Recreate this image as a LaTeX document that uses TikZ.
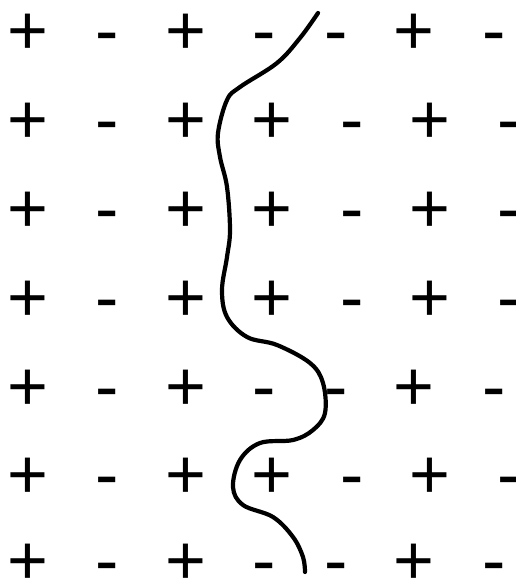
\documentclass[tikz,border=0pt]{standalone}
\usepackage{fontspec}
\setmainfont{Liberation Sans}

\begin{document}
\begin{tikzpicture}[x=1pt,y=-1pt,
        sign/.style={inner sep=0pt,anchor=base,font=\fontsize{70}{70}\selectfont},
        boundary/.style={line width=4.2pt,line cap=round,line join=round}]
        \useasboundingbox (0,0) rectangle (516,578);
        % rows with a minus in the fourth place
        \foreach \r/\y in {1/30,5/385,7/559}{
            \foreach \c/\x/\s in {1/28/+,2/107/-,3/186/+,4/264/-,5/336/-,6/414/+,7/494/-}
                \node[sign] (s\r\c) at (\x,\y+25) {\s};
        }
        % rows with a plus in the fourth place
        \foreach \r/\y in {2/118,3/207,4/296,6/473}{
            \foreach \c/\x/\s in {1/28/+,2/107/-,3/186/+,4/272/+,5/352/-,6/430/+,7/509/-}
                \node[sign] (s\r\c) at (\x,\y+25) {\s};
        }
        \draw[boundary] plot[smooth,tension=0.6] coordinates {
            (318,13) (300,38) (277,63) (240,87) (227,100) (218,133) (220,157)
            (227,187) (230,230) (227,257) (222,290) (227,317) (247,337)
            (277,345) (310,363) (323,383) (325,413) (313,430) (293,440)
            (260,443) (240,460) (233,487) (243,505) (273,517) (293,537)
            (303,557) (305,572)};
    \end{tikzpicture}
\end{document}
